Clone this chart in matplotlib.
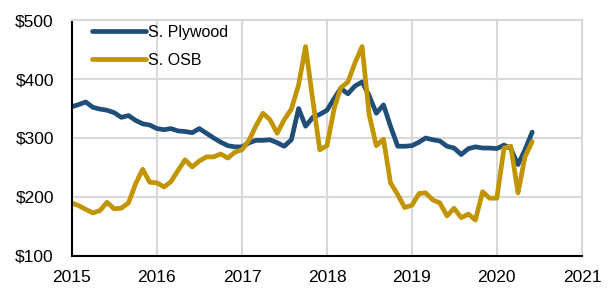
import pandas as pd
import matplotlib
matplotlib.use("Agg")
import matplotlib.pyplot as plt
import matplotlib.dates as mdates
from matplotlib.ticker import FuncFormatter

# monthly prices, Jan 2015 - Jun 2020
months = pd.date_range("2015-01-01", periods=66, freq="MS")
plywood = [353, 357, 361, 352, 349, 347, 343, 335, 338, 330, 324, 322,
           316, 314, 316, 312, 311, 309, 316, 308, 300, 293, 287, 285,
           285, 292, 296, 296, 297, 292, 286, 297, 350, 320, 335, 340,
           347, 367, 384, 375, 388, 395, 372, 342, 356, 320, 286, 286,
           287, 293, 300, 297, 295, 286, 283, 272, 282, 285, 283, 283,
           282, 288, 282, 255, 280, 310]
osb = [190, 185, 179, 173, 177, 191, 180, 181, 190, 222, 247, 225,
       224, 217, 226, 245, 263, 251, 261, 268, 268, 273, 266, 276,
       280, 297, 320, 342, 331, 308, 331, 349, 390, 455, 364, 280,
       287, 350, 385, 395, 427, 455, 340, 287, 298, 224, 204, 182,
       186, 206, 207, 195, 190, 168, 181, 165, 171, 161, 209, 198,
       198, 283, 286, 207, 268, 294]

plt.rcParams["font.family"] = ["Liberation Sans", "DejaVu Sans"]

fig = plt.figure(figsize=(6.11, 2.92), dpi=100)
ax = fig.add_axes([0.1178, 0.1233, 0.8347, 0.8082])

ax.plot(months, plywood, color="#1F4E79", lw=3.4, label="S. Plywood", solid_capstyle="round")
ax.plot(months, osb, color="#C29400", lw=3.4, label="S. OSB", solid_capstyle="round")

ax.set_xlim(pd.Timestamp("2015-01-01"), pd.Timestamp("2021-01-01"))
ax.set_ylim(100, 500)
ax.set_yticks([100, 200, 300, 400, 500])
ax.yaxis.set_major_formatter(FuncFormatter(lambda v, p: f"${v:.0f}"))
ax.xaxis.set_major_locator(mdates.YearLocator())
ax.xaxis.set_major_formatter(mdates.DateFormatter("%Y"))

ax.grid(True, color="#D9D9D9", lw=1.5)
ax.set_axisbelow(True)
for s in ["top", "right"]:
    ax.spines[s].set_color("#D9D9D9")
    ax.spines[s].set_linewidth(1.5)
for s in ["left", "bottom"]:
    ax.spines[s].set_color("black")
    ax.spines[s].set_linewidth(1.5)
ax.tick_params(length=0, labelsize=12.5)
ax.tick_params(axis="x", pad=10)
ax.tick_params(axis="y", pad=13)

ax.legend(loc="upper left", frameon=False, fontsize=11.5, handlelength=3.4,
          handletextpad=0.1, borderaxespad=0.2, labelspacing=0.8,
          bbox_to_anchor=(0.02, 1.02))

fig.savefig("out.png", dpi=100)
